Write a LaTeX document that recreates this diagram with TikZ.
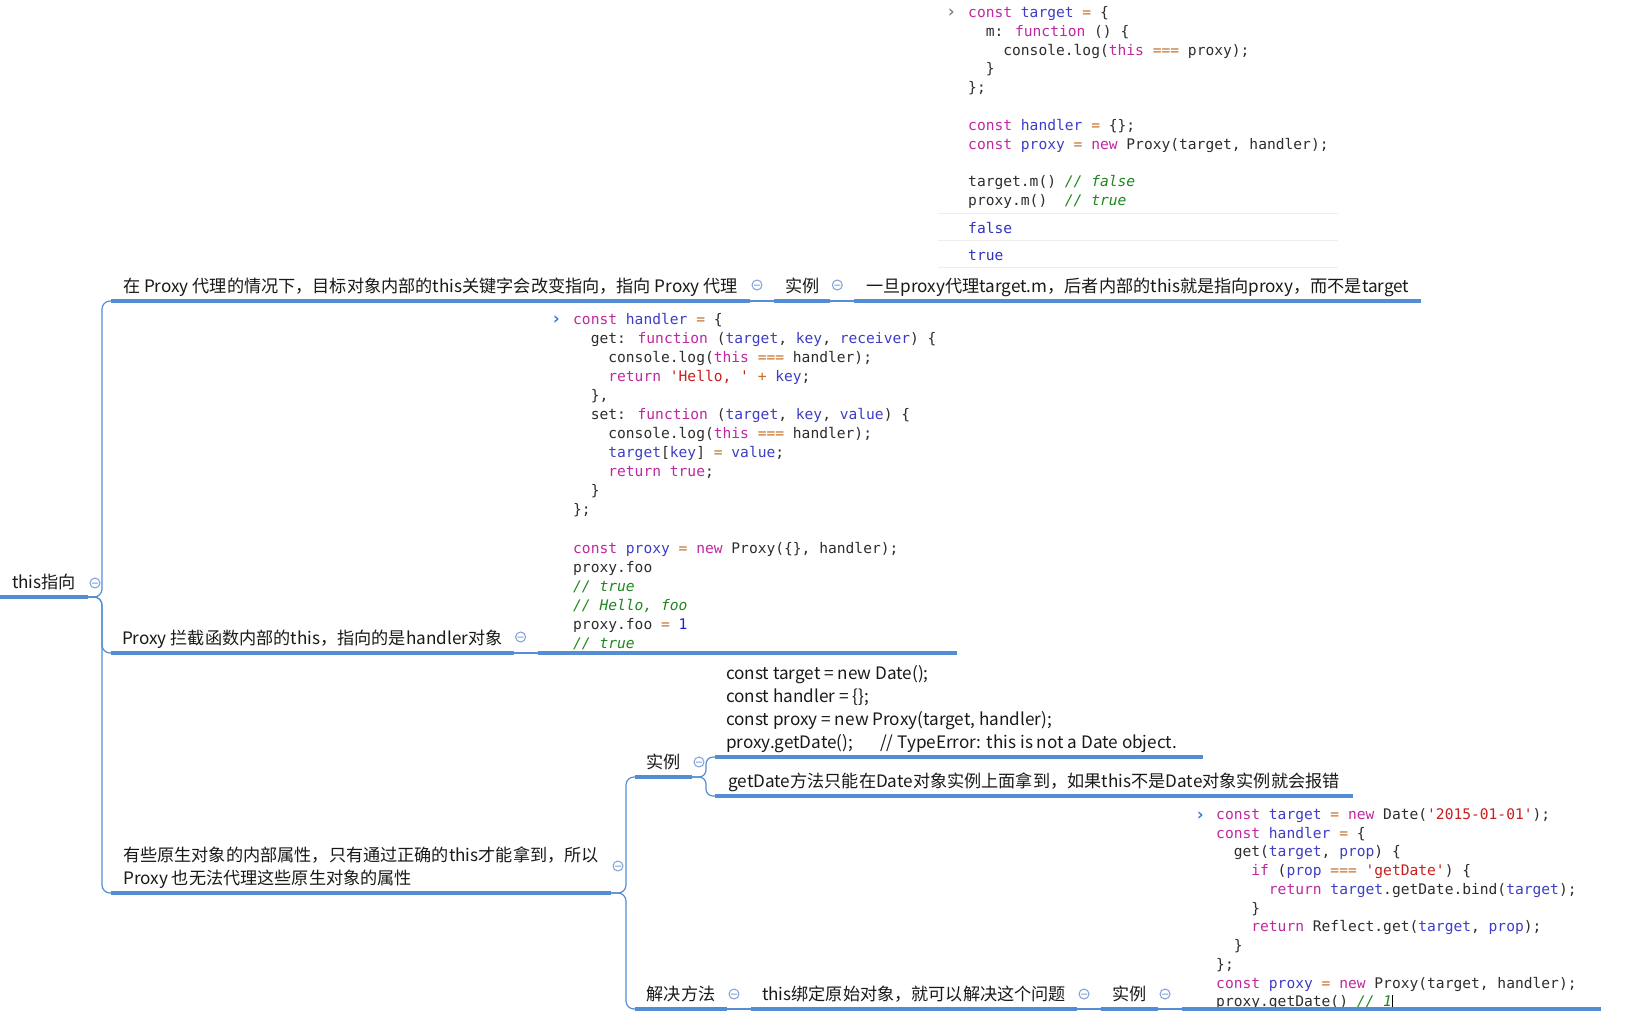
\documentclass[tikz,border=0pt]{standalone}
\usepackage{fontspec}
\usepackage{xcolor}
\newfontfamily\topicfont{Noto Sans CJK SC}
\newfontfamily\codefont{DejaVu Sans Mono}
\usepackage{tikz}
\usetikzlibrary{positioning, calc}

\definecolor{mapblue}{RGB}{84,141,212}
\definecolor{btnblue}{RGB}{125,160,218}
\definecolor{jskw}{RGB}{192,40,160}
\definecolor{jsvar}{RGB}{62,62,196}
\definecolor{jsop}{RGB}{196,110,40}
\definecolor{jsstr}{RGB}{200,30,30}
\definecolor{jscom}{RGB}{30,135,30}
\definecolor{jsnum}{RGB}{30,30,210}
\definecolor{jsplain}{RGB}{45,45,45}
\definecolor{jsout}{RGB}{50,50,190}
\definecolor{promptgray}{RGB}{130,130,130}
\definecolor{promptblue}{RGB}{40,120,230}

\newcommand{\jkw}[1]{\textcolor{jskw}{#1}}
\newcommand{\jvar}[1]{\textcolor{jsvar}{#1}}
\newcommand{\jop}[1]{\textcolor{jsop}{#1}}
\newcommand{\jstr}[1]{\textcolor{jsstr}{#1}}
\newcommand{\jcom}[1]{\textcolor{jscom}{\itshape #1}}
\newcommand{\jnum}[1]{\textcolor{jsnum}{#1}}
\newcommand{\topiclines}[1]{\begin{tabular}[b]{@{}l@{}}#1\end{tabular}}
\newcommand{\codelines}[1]{\begin{tabular}[t]{@{}l@{}}#1\end{tabular}}

\begin{document}
\begin{tikzpicture}[
        x=1pt, y=-1pt,
        node distance=24pt,
        topic/.style={anchor=south west, inner xsep=11pt, inner ysep=8.5pt, outer sep=0pt, text depth=0pt, text=black!90, font=\topicfont\fontsize{17.15}{23}\selectfont},
        uline/.style={mapblue, line width=4pt},
        branchline/.style={mapblue, line width=1.2pt, rounded corners=8pt},
        foldbtn/.style={btnblue, line width=1pt},
        codeblk/.style={anchor=base west, inner sep=0pt, text=jsplain, font=\codefont\fontsize{14.6}{#1}\selectfont},
        promptmark/.style={anchor=base west, inner sep=0pt, font=\codefont\bfseries\fontsize{17}{18}\selectfont},
        sepline/.style={black!7, line width=1pt}
    ]

        \path[use as bounding box, fill=white] (0,0) rectangle (1648,1014);

        % Topics
        \node[topic, minimum width=88pt] (root) at (0,597) {this指向};

        \node[topic, minimum width=639pt] (p1) at (111,301) {在 Proxy 代理的情况下，目标对象内部的this关键字会改变指向，指向 Proxy 代理};
        \node[topic, minimum width=56pt, right=of p1.south east, anchor=south west] (p1ex) {实例};
        \node[topic, minimum width=567pt, right=of p1ex.south east, anchor=south west] (p1note) {一旦proxy代理target.m，后者内部的this就是指向proxy，而不是target};

        \node[topic, minimum width=401pt] (p2) at (111,653) {Proxy 拦截函数内部的this，指向的是handler对象};
        \node[topic, minimum width=419pt, right=of p2.south east, anchor=south west] (p2code) {};

        \node[topic, minimum width=500pt] (p3) at (111,893) {\topiclines{有些原生对象的内部属性，只有通过正确的this才能拿到，所以\\Proxy 也无法代理这些原生对象的属性}};
        \node[topic, minimum width=57pt] (p3ex) at (635,777) {实例};
        \node[topic, minimum width=488pt] (p3ex1) at (715,757) {\makebox[466pt][l]{\topiclines{const target = new Date();\\const handler = \{\};\\const proxy = new Proxy(target, handler);\\proxy.getDate();\hspace{27pt}// TypeError: this is not a Date object.}}};
        \node[topic, minimum width=638pt] (p3ex2) at (715,796) {getDate方法只能在Date对象实例上面拿到，如果this不是Date对象实例就会报错};
        \node[topic, minimum width=92pt] (p3fix) at (635,1009) {解决方法};
        \node[topic, minimum width=323pt, right=of p3fix.south east, anchor=south west] (p3fixa) {this绑定原始对象，就可以解决这个问题};
        \node[topic, minimum width=57pt, right=of p3fixa.south east, anchor=south west] (p3fixex) {实例};
        \node[topic, minimum width=419pt, right=of p3fixex.south east, anchor=south west] (p3fixcode) {};

        % Code screenshots
        \node[promptmark, text=promptgray] (pr1) at (946,18) {›};
        \node[codeblk=18.8] (code1) at (968,17.5) {\codelines{%
            \jkw{const} \jvar{target} \jop{=} \{\\
            ~~m: \jkw{function} () \{\\
            ~~~~console.log(\jkw{this} \jop{===} proxy);\\
            ~~\}\\
            \};\\
            \\
            \jkw{const} \jvar{handler} \jop{=} \{\};\\
            \jkw{const} \jvar{proxy} \jop{=} \jkw{new} Proxy(target, handler);\\
            \\
            target.m() \jcom{// false}\\
            proxy.m()~~\jcom{// true}}};
        \node[codeblk=18.8, text=jsout] (out1) at (968,233) {false};
        \node[codeblk=18.8, text=jsout] (out2) at (968,260) {true};
        \draw[sepline] (938,213) -- (1338,213);
        \draw[sepline] (938,240) -- (1338,240);
        \draw[sepline] (938,267) -- (1338,267);

        \node[promptmark, text=promptblue] (pr2) at (551,324.8) {›};
        \node[codeblk=19.06] (code2) at (573,324.3) {\codelines{%
            \jkw{const} \jvar{handler} \jop{=} \{\\
            ~~get: \jkw{function} (\jvar{target}, \jvar{key}, \jvar{receiver}) \{\\
            ~~~~console.log(\jkw{this} \jop{===} handler);\\
            ~~~~\jkw{return} \jstr{\textquotesingle Hello, \textquotesingle} \jop{+} \jvar{key};\\
            ~~\},\\
            ~~set: \jkw{function} (\jvar{target}, \jvar{key}, \jvar{value}) \{\\
            ~~~~console.log(\jkw{this} \jop{===} handler);\\
            ~~~~\jvar{target}[\jvar{key}] \jop{=} \jvar{value};\\
            ~~~~\jkw{return} \jkw{true};\\
            ~~\}\\
            \};\\
            \\
            \jkw{const} \jvar{proxy} \jop{=} \jkw{new} Proxy(\{\}, handler);\\
            proxy.foo\\
            \jcom{// true}\\
            \jcom{// Hello, foo}\\
            proxy.foo \jop{=} \jnum{1}\\
            \jcom{// true}}};

        \begin{scope}
            \clip (1180,795) rectangle (1610,1007);
            \node[promptmark, text=promptblue] (pr3) at (1195,820) {›};
            \node[codeblk=18.73] (code3) at (1216,819.5) {\codelines{%
                \jkw{const} \jvar{target} \jop{=} \jkw{new} Date(\jstr{\textquotesingle 2015-01-01\textquotesingle});\\
                \jkw{const} \jvar{handler} \jop{=} \{\\
                ~~get(\jvar{target}, \jvar{prop}) \{\\
                ~~~~\jkw{if} (\jvar{prop} \jop{===} \jstr{\textquotesingle getDate\textquotesingle}) \{\\
                ~~~~~~\jkw{return} \jvar{target}.getDate.bind(\jvar{target});\\
                ~~~~\}\\
                ~~~~\jkw{return} Reflect.get(\jvar{target}, \jvar{prop});\\
                ~~\}\\
                \};\\
                \jkw{const} \jvar{proxy} \jop{=} \jkw{new} Proxy(target, handler);\\
                proxy.getDate() \jcom{// 1}\textcolor{black}{\rule[-2pt]{0.8pt}{14pt}}}};
        \end{scope}

        % Branches
        \draw[branchline] (root.south east) -- ++(14,0) |- (p1.south west);
        \draw[branchline] (root.south east) -- ++(14,0) |- (p2.south west);
        \draw[branchline] (root.south east) -- ++(14,0) |- (p3.south west);
        \draw[branchline] (p3.south east) -- ++(15,0) |- (p3ex.south west);
        \draw[branchline] (p3.south east) -- ++(15,0) |- (p3fix.south west);
        \draw[branchline, rounded corners=7pt] (p3ex.south east) -- ++(14,0) |- (p3ex1.south west);
        \draw[branchline, rounded corners=7pt] (p3ex.south east) -- ++(14,0) |- (p3ex2.south west);
        \foreach \a/\b in {p1/p1ex, p1ex/p1note, p2/p2code, p3fix/p3fixa, p3fixa/p3fixex, p3fixex/p3fixcode}
            \draw[branchline] (\a.south east) -- (\b.south west);

        % Underlines
        \foreach \n in {root, p1, p1ex, p1note, p2, p2code, p3, p3ex, p3ex1, p3ex2, p3fix, p3fixa, p3fixex, p3fixcode}
            \draw[uline] (\n.south west) -- (\n.south east);

        % Fold buttons
        \foreach \n/\dy in {root/14, p1/16, p1ex/16, p2/16, p3/27, p3ex/15, p3fix/15, p3fixa/15, p3fixex/15}
            \draw[foldbtn] ($(\n.south east)+(7,-\dy)$) circle (5pt) ++(-3pt,0) -- ++(6pt,0);
    \end{tikzpicture}
\end{document}
